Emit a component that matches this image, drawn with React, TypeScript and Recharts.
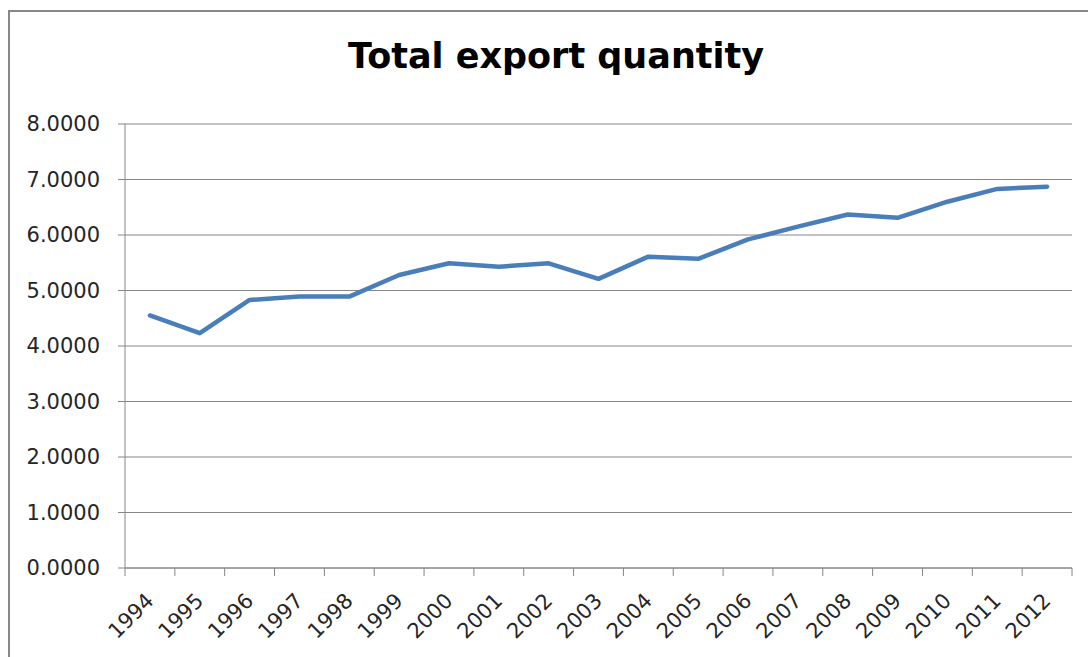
import React from 'react';
import { LineChart, Line, XAxis, YAxis, CartesianGrid } from 'recharts';

const years = ['1994', '1995', '1996', '1997', '1998', '1999', '2000', '2001', '2002', '2003', '2004', '2005', '2006', '2007', '2008', '2009', '2010', '2011', '2012'];
const exportQuantity = [4.55, 4.23, 4.83, 4.89, 4.89, 5.28, 5.49, 5.43, 5.49, 5.21, 5.61, 5.57, 5.92, 6.15, 6.37, 6.31, 6.60, 6.83, 6.87];
const yTicks = [0, 1, 2, 3, 4, 5, 6, 7, 8];
const title = 'Total export quantity';

const data = years.map((year, i) => ({ year, value: exportQuantity[i] }));

const FONT = '"DejaVu Sans", Verdana, sans-serif';
const GRID = '#868686';
const TEXT = '#262626';

const YearTick = (props: any) => {
  const { x, y, payload, index, visibleTicksCount, width } = props;
  const half =
    typeof payload?.offset === 'number' && payload.offset > 0
      ? payload.offset
      : width / (visibleTicksCount || years.length) / 2;
  const last = index === (visibleTicksCount || years.length) - 1;
  return (
    <g>
      <line x1={x - half} x2={x - half} y1={y} y2={y + 8} stroke={GRID} strokeWidth={1} />
      {last && <line x1={x + half} x2={x + half} y1={y} y2={y + 8} stroke={GRID} strokeWidth={1} />}
      <g transform={`translate(${x + 5},${y + 34})`}>
        <text transform="rotate(-45)" textAnchor="end" fill={TEXT} fontSize={21} fontFamily={FONT}>
          {payload.value}
        </text>
      </g>
    </g>
  );
};

export default function App() {
  return (
    <div style={{ position: 'absolute', left: 0, top: 0, width: 1088, height: 657, background: '#fff', overflow: 'hidden' }}>
      <div
        style={{
          position: 'absolute',
          left: 8,
          top: 10,
          width: 1200,
          height: 800,
          borderTop: '2px solid #888',
          borderLeft: '2px solid #888',
        }}
      />
      <div
        style={{
          position: 'absolute',
          left: 24,
          top: 35,
          width: 1064,
          textAlign: 'center',
          fontFamily: FONT,
          fontWeight: 700,
          fontSize: 35,
          lineHeight: '42px',
          color: '#000',
        }}
      >
        {title}
      </div>
      <div style={{ position: 'absolute', left: 0, top: 0 }}>
        <LineChart width={1088} height={657} data={data} margin={{ top: 124, right: 16, left: 0, bottom: 0 }}>
          <CartesianGrid vertical={false} stroke={GRID} strokeWidth={1} />
          <XAxis
            dataKey="year"
            scale="band"
            interval={0}
            axisLine={{ stroke: GRID }}
            tickLine={false}
            tickSize={0}
            tickMargin={0}
            height={89}
            tick={<YearTick />}
          />
          <YAxis
            domain={[0, 8]}
            ticks={yTicks}
            interval={0}
            width={125}
            tickSize={7}
            tickMargin={18}
            axisLine={{ stroke: GRID }}
            tickLine={{ stroke: GRID }}
            tickFormatter={(v: number) => v.toFixed(4)}
            tick={{ fill: TEXT, fontSize: 21, fontFamily: FONT }}
          />
          <Line
            type="linear"
            dataKey="value"
            stroke="#4A7EBB"
            strokeWidth={4.5}
            dot={false}
            activeDot={false}
            strokeLinejoin="round"
            strokeLinecap="round"
            isAnimationActive={false}
          />
        </LineChart>
      </div>
    </div>
  );
}
